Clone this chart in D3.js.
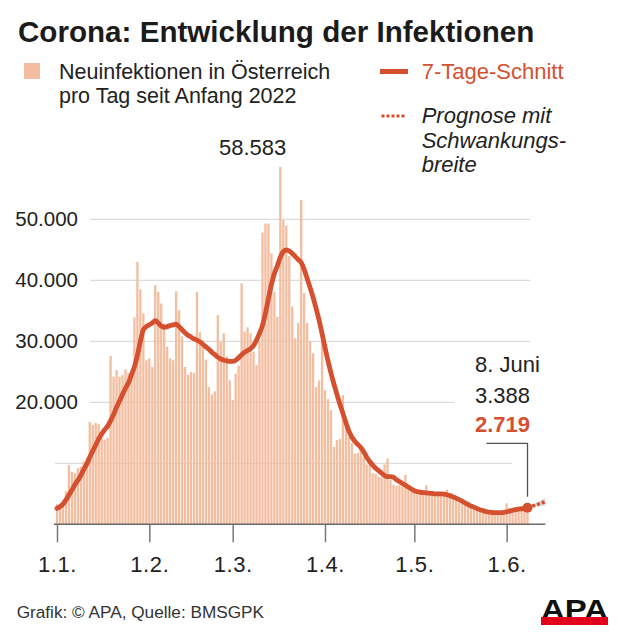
<!DOCTYPE html>
<html>
<head>
<meta charset="utf-8">
<script src="https://cdn.jsdelivr.net/npm/d3@7"></script>
<style>
body { margin: 0; background: #fff; }
text { font-family: "Liberation Sans", Arial, sans-serif; }
</style>
</head>
<body>
<div id="chart"></div>
<script>
// daily new infections from 1 Jan 2022 (one value per day)
var startDay = "2022-01-01";
var dailyCases = [
	3300, 3100, 3400, 5400, 9700, 8600, 8400, 9200, 9500, 10300,
	10900, 16800, 16300, 16600, 16400, 14100, 13900, 14200, 27600, 24200,
	25300, 24200, 24500, 25400, 24800, 25300, 33900, 43000, 38500, 34600,
	26900, 27200, 25800, 39200, 38100, 36200, 32900, 29100, 27200, 26900,
	38200, 35100, 30800, 25800, 24500, 25000, 24800, 38100, 31500, 30200,
	27000, 22500, 21300, 21800, 34300, 30000, 31300, 27500, 23600, 20400,
	24700, 26000, 39500, 31600, 32300, 31300, 28300, 26100, 30000, 47800,
	49300, 49300, 44400, 38100, 34000, 58583, 49900, 49000, 44000, 35700,
	30500, 33000, 53150, 37900, 33000, 30000, 28000, 22500, 23600, 32000,
	22000, 20500, 18700, 12700, 13800, 14000, 21200, 16000, 14300, 13300,
	11600, 11700, 12200, 11100, 9800, 9700, 8400, 8300, 7800, 7800,
	9800, 10800, 7300, 6500, 6300, 6400, 6200, 8100, 5700, 5500,
	5300, 5600, 5700, 5500, 6400, 5100, 5000, 4900, 4800, 5000,
	4700, 5700, 4600, 4500, 4400, 3500, 3400, 3300, 3700, 2500,
	2400, 2300, 2400, 2200, 2100, 2300, 2000, 1900, 1800, 2000,
	2100, 3440, 2700, 2600, 2600, 2900, 2800, 2700, 3388
];
// 7-day average
var avg7 = [
	2600, 2900, 3300, 4000, 4800, 5600, 6500, 7200, 8000, 9000,
	9900, 11000, 12000, 13000, 14000, 14800, 15500, 16100, 17000, 18000,
	19200, 20200, 21300, 22300, 23200, 24500, 25800, 27700, 30000, 31900,
	32400, 32700, 33000, 33400, 33000, 32500, 32300, 32400, 32600, 32700,
	32800, 32400, 31900, 31400, 31000, 30700, 30400, 30200, 29900, 29500,
	29100, 28700, 28200, 27800, 27400, 27100, 26900, 26800, 26700, 26700,
	26900, 27300, 27800, 28200, 28500, 28800, 29300, 30200, 31300, 32600,
	34600, 37000, 39300, 41100, 42400, 43800, 44700, 45000, 44800, 44400,
	43900, 43400, 42900, 41800, 40300, 38800, 37200, 35400, 33500, 31300,
	29000, 26800, 24800, 23000, 21300, 19700, 18200, 16700, 15300, 14300,
	13600, 13100, 12600, 11900, 11000, 10300, 9700, 9200, 8800, 8400,
	8000, 7800, 7800, 7700, 7300, 7000, 6700, 6400, 6100, 5800,
	5500, 5350, 5250, 5200, 5150, 5100, 5050, 5000, 5000, 4980,
	4950, 4850, 4700, 4500, 4300, 4050, 3800, 3500, 3250, 3000,
	2800, 2600, 2400, 2250, 2100, 2000, 1950, 1900, 1900, 1920,
	1970, 2050, 2150, 2300, 2420, 2500, 2550, 2620, 2719
];
var monthTicks = ["2022-01-01", "2022-02-01", "2022-03-01", "2022-04-01", "2022-05-01", "2022-06-01"];
var gridTicks = [10000, 20000, 30000, 40000, 50000];
var labelTicks = [20000, 30000, 40000, 50000];
// forecast with range
var forecastDays = ["2022-06-08", "2022-06-14"];
var forecastMid = [2719, 3700];
var forecastLow = [2719, 3100];
var forecastHigh = [2719, 4300];

var chart_width = 620,
	chart_height = 634;
var barColor = "#f3bda0",
	lineColor = "#d5502e",
	textColor = "#222";

var parse = d3.utcParse("%Y-%m-%d");
var start = parse(startDay);
var days = dailyCases.map(function(d, i) {
	return d3.utcDay.offset(start, i);
});
var last = days.length - 1;

var x = d3.scaleUtc()
	.domain([start, days[last]])
	.range([57, 527.5]);
var y = d3.scaleLinear()
	.domain([0, 50000])
	.range([524.3, 219.3]);

var de = d3.formatLocale({decimal: ",", thousands: ".", grouping: [3], currency: ["", " €"]});
var fmt = de.format(",");

var svg = d3.select("#chart")
	.append("svg")
		.attr("width", chart_width)
		.attr("height", chart_height);

// title
svg.append("text")
	.attr("x", 18)
	.attr("y", 42)
	.attr("font-size", 29.6)
	.attr("font-weight", "bold")
	.attr("fill", "#1b1b1b")
	.text("Corona: Entwicklung der Infektionen");

// legend
svg.append("rect")
	.attr("x", 24).attr("y", 63)
	.attr("width", 16).attr("height", 16)
	.attr("fill", barColor);
svg.append("text")
	.attr("x", 59).attr("y", 79)
	.attr("font-size", 21.5).attr("fill", textColor)
	.text("Neuinfektionen in Österreich");
svg.append("text")
	.attr("x", 59).attr("y", 102.5)
	.attr("font-size", 21.5).attr("fill", textColor)
	.text("pro Tag seit Anfang 2022");

svg.append("line")
	.attr("x1", 380).attr("x2", 408)
	.attr("y1", 71.5).attr("y2", 71.5)
	.attr("stroke", lineColor).attr("stroke-width", 5);
svg.append("text")
	.attr("x", 421.7).attr("y", 79)
	.attr("font-size", 22).attr("fill", lineColor)
	.text("7-Tage-Schnitt");

svg.append("line")
	.attr("x1", 381.5).attr("x2", 406)
	.attr("y1", 116).attr("y2", 116)
	.attr("stroke", lineColor).attr("stroke-width", 3)
	.attr("stroke-dasharray", "3,2");
svg.selectAll("text.prog")
	.data(["Prognose mit", "Schwankungs-", "breite"])
	.enter()
	.append("text")
	.attr("class", "prog")
	.attr("x", 421.7)
	.attr("y", function(d, i) { return 123 + i * 24.5; })
	.attr("font-size", 22)
	.attr("font-style", "italic")
	.attr("fill", textColor)
	.text(function(d) { return d; });

// gridlines (cut where labels sit)
svg.append("g")
	.selectAll("line")
	.data(gridTicks)
	.enter()
	.append("line")
	.attr("x1", function(d) { return labelTicks.indexOf(d) >= 0 ? 90 : 55; })
	.attr("x2", function(d) {
		if (d == 20000) return 455;   // room for the 3.388 label
		if (d == 10000) return 512;   // room for the pointer line
		return 530;
	})
	.attr("y1", function(d) { return y(d); })
	.attr("y2", function(d) { return y(d); })
	.attr("stroke", "#dcdcdc")
	.attr("stroke-width", 1.3);

svg.append("g")
	.selectAll("text")
	.data(labelTicks)
	.enter()
	.append("text")
	.attr("x", 78)
	.attr("y", function(d) { return y(d) + 6.8; })
	.attr("text-anchor", "end")
	.attr("font-size", 20.5)
	.attr("fill", textColor)
	.text(function(d) { return fmt(d); });

// bars
svg.append("g")
	.selectAll("rect")
	.data(dailyCases)
	.enter()
	.append("rect")
	.attr("x", function(d, i) { return x(days[i]) - 1.15; })
	.attr("y", function(d) { return y(d); })
	.attr("width", 2.3)
	.attr("height", function(d) { return y(0) - y(d); })
	.attr("fill", barColor);

// forecast band + dotted line
var fDays = forecastDays.map(parse);
var band = d3.area()
	.x(function(d, i) { return x(fDays[i]); })
	.y0(function(d, i) { return y(forecastLow[i]); })
	.y1(function(d, i) { return y(forecastHigh[i]); });
svg.append("path")
	.attr("d", band(fDays))
	.attr("fill", "#d9d9d9");
var fLine = d3.line()
	.x(function(d, i) { return x(fDays[i]); })
	.y(function(d, i) { return y(forecastMid[i]); });
svg.append("path")
	.attr("d", fLine(fDays))
	.attr("fill", "none")
	.attr("stroke", lineColor)
	.attr("stroke-width", 3.5)
	.attr("stroke-dasharray", "3,2");

// 7-day line
var line = d3.line()
	.x(function(d, i) { return x(days[i]); })
	.y(function(d) { return y(d); })
	.curve(d3.curveMonotoneX);
svg.append("path")
	.attr("d", line(avg7))
	.attr("fill", "none")
	.attr("stroke", lineColor)
	.attr("stroke-width", 4.8)
	.attr("stroke-linejoin", "round")
	.attr("stroke-linecap", "round");

// x axis
var gx = svg.append("g")
	.attr("transform", "translate(0," + y(0) + ")")
	.call(d3.axisBottom(x)
		.tickValues(monthTicks.map(parse))
		.tickFormat(d3.utcFormat("%-d.%-m."))
		.tickSize(18));
gx.select(".domain").remove();
gx.selectAll(".tick line")
	.attr("stroke", "#7a7a7a")
	.attr("stroke-width", 1.5);
gx.selectAll(".tick text")
	.attr("y", 48)
	.attr("dy", null)
	.attr("font-size", 22)
	.attr("font-family", "'Liberation Sans', Arial, sans-serif")
	.attr("letter-spacing", 0.6)
	.attr("fill", textColor);
svg.append("line")
	.attr("x1", x(start) - 3)
	.attr("x2", x(fDays[1]))
	.attr("y1", y(0))
	.attr("y2", y(0))
	.attr("stroke", "#6a6a6a")
	.attr("stroke-width", 1.5);

// peak label
var peak = d3.maxIndex(dailyCases);
svg.append("text")
	.attr("x", x(days[peak]) + 6)
	.attr("y", 155)
	.attr("text-anchor", "end")
	.attr("font-size", 22)
	.attr("fill", textColor)
	.text(fmt(dailyCases[peak]));

// last day label + pointer
var lx = x(days[last]);
svg.append("text")
	.attr("x", lx - 52.5).attr("y", 371.7)
	.attr("font-size", 22).attr("fill", textColor)
	.text(d3.utcFormat("%-d. ")(days[last]) + "Juni");
svg.append("text")
	.attr("x", lx - 52.5).attr("y", 402.7)
	.attr("font-size", 22).attr("fill", textColor)
	.text(fmt(dailyCases[last]));
svg.append("text")
	.attr("x", lx - 52.5).attr("y", 431.7)
	.attr("font-size", 22).attr("font-weight", "bold").attr("fill", lineColor)
	.text(fmt(avg7[last]));
svg.append("path")
	.attr("d", "M" + (lx - 41) + ",443.3H" + lx + "V" + (y(avg7[last]) - 11))
	.attr("fill", "none")
	.attr("stroke", "#555")
	.attr("stroke-width", 1.3);
svg.append("circle")
	.attr("cx", lx)
	.attr("cy", y(avg7[last]))
	.attr("r", 5)
	.attr("fill", lineColor);

// footer
svg.append("text")
	.attr("x", 16.7).attr("y", 618)
	.attr("font-size", 17.2).attr("fill", "#333")
	.text("Grafik: © APA, Quelle: BMSGPK");
svg.append("text")
	.attr("x", 541).attr("y", 619)
	.attr("font-size", 28).attr("font-weight", "bold").attr("fill", "#111")
	.attr("textLength", 67).attr("lengthAdjust", "spacingAndGlyphs")
	.text("APA");
svg.append("rect")
	.attr("x", 541).attr("y", 617)
	.attr("width", 67).attr("height", 8)
	.attr("fill", "#e2001a");
</script>
</body>
</html>
